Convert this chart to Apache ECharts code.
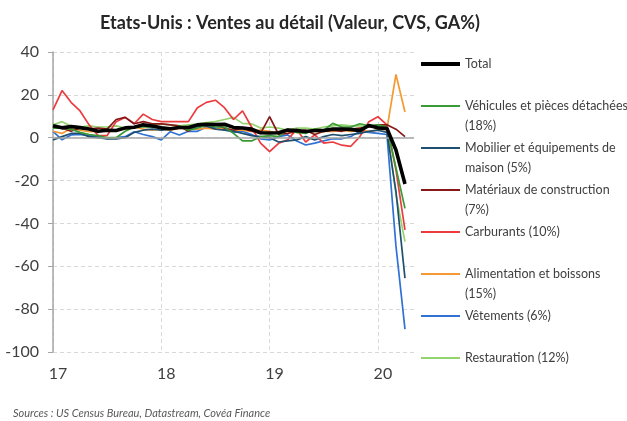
<!DOCTYPE html>
<html>
<head>
<meta charset="utf-8">
<script src="https://cdn.jsdelivr.net/npm/echarts@6/dist/echarts.min.js"></script>
<style>
  html, body { margin: 0; padding: 0; background: #fff; }
  #chart { width: 627px; height: 421px; }
</style>
</head>
<body>
<div id="chart"></div>
<script>
// months jan-2017 .. may-2020 (last one empty, the axis runs a bit past the data)
var months = []
for (var y = 2017; y <= 2020; y++) {
  for (var m = 1; m <= 12; m++) {
    if (y === 2020 && m > 5) break
    months.push(y + '-' + (m < 10 ? '0' + m : m))
  }
}

var seriesNames = [
  'Total',
  'Véhicules et pièces détachées (18%)',
  'Mobilier et équipements de maison (5%)',
  'Matériaux de construction (7%)',
  'Carburants (10%)',
  'Alimentation et boissons (15%)',
  'Vêtements (6%)',
  'Restauration (12%)'
]
// legend text as wrapped in the picture (blank first line keeps the sample on the first text line)
var legendLabels = [
  ' \nTotal\n ',
  ' \nVéhicules et pièces détachées\n(18%)',
  ' \nMobilier et équipements de\nmaison (5%)',
  ' \nMatériaux de construction\n(7%)',
  ' \nCarburants (10%)\n ',
  ' \nAlimentation et boissons\n(15%)',
  ' \nVêtements (6%)\n ',
  ' \nRestauration (12%)\n '
]
var colors = ['#000000', '#3a9a35', '#1f4f6e', '#861818', '#ec3b3f', '#f59a32', '#2f72d4', '#94d46e']

// GA% values, jan-2017 .. apr-2020
var total = [5.6, 4.6, 5.2, 4.7, 4.1, 3.0, 3.5, 3.4, 4.6, 4.9, 6.0, 5.5,
  4.6, 4.2, 4.8, 4.8, 6.0, 6.3, 6.2, 6.3, 4.8, 4.5, 4.0, 2.3,
  2.2, 2.3, 3.6, 3.3, 2.9, 3.4, 3.4, 4.1, 4.1, 3.9, 3.3, 5.7,
  4.6, 4.3, -5.7, -21.6]
var vehicules = [4.5, 4.5, 4.0, 2.5, 1.5, 1.0, 0.0, 0.0, 3.0, 5.0, 5.0, 5.0,
  5.0, 4.0, 5.5, 3.5, 4.5, 6.0, 5.0, 5.0, 2.0, -1.5, -1.5, 0.5,
  1.0, 0.5, 4.0, 2.5, 2.0, 4.0, 3.5, 6.7, 5.0, 5.0, 6.5, 5.5,
  6.0, 5.0, -14.0, -33.0]
var mobilier = [-1.0, 0.5, 2.0, 2.0, 0.5, 0.0, -0.5, -0.5, 0.0, 2.5, 3.5, 4.0,
  3.5, 4.0, 5.0, 4.5, 5.0, 5.5, 4.0, 3.5, 3.0, 2.0, 1.0, 0.5,
  0.0, -2.0, -1.5, -1.0, 0.5, -1.0, 0.5, 1.5, 1.0, 1.5, 2.0, 3.0,
  3.5, 2.5, -25.0, -65.5]
var materiaux = [5.0, 4.5, 3.0, 4.5, 4.0, 4.5, 4.0, 8.5, 9.5, 6.5, 7.5, 6.5,
  6.5, 6.0, 5.5, 3.0, 6.0, 5.5, 6.0, 4.5, 3.5, 4.5, 3.0, 2.0,
  9.8, 1.5, 2.0, 3.0, 3.5, 1.5, 3.0, 3.5, 3.0, 4.0, 4.5, 5.0,
  6.0, 6.0, 4.0, 0.5]
var carburants = [13.0, 22.0, 16.5, 12.5, 6.0, 1.0, 1.0, 7.5, 9.5, 6.5, 11.0, 8.5,
  7.5, 7.5, 7.5, 7.5, 14.0, 16.5, 17.5, 14.0, 8.5, 12.5, 5.0, -2.5,
  -6.5, -2.6, -1.0, 4.0, -2.0, 1.3, -2.5, -2.0, -3.5, -4.0, 0.5, 7.5,
  9.8, 6.0, -15.0, -43.0]
var alimentation = [3.0, 2.0, 4.4, 3.5, 2.8, 3.0, 3.5, 3.5, 4.0, 5.0, 4.0, 3.5,
  4.0, 3.5, 4.5, 4.0, 4.0, 4.5, 4.0, 4.5, 3.5, 3.5, 3.0, 3.5,
  3.0, 2.0, 3.0, 2.5, 2.5, 3.0, 3.0, 3.0, 3.5, 3.0, 3.5, 3.0,
  3.5, 4.0, 29.5, 12.0]
var vetements = [3.0, -1.0, 1.3, 1.5, 1.0, 0.5, -0.3, 0.0, 0.5, 2.8, 1.5, 0.5,
  -1.0, 2.8, 1.3, 3.0, 3.0, 5.0, 4.5, 4.0, 2.5, 3.0, 1.5, -0.5,
  -1.0, 0.5, 1.3, -1.5, -3.4, -2.5, -1.5, -0.5, -0.5, 0.5, 3.0, 2.5,
  2.0, 1.5, -50.5, -89.3]
var restauration = [6.0, 7.5, 5.5, 5.0, 5.5, 5.0, 5.0, 5.5, 4.5, 5.0, 5.5, 6.0,
  6.5, 6.0, 5.5, 6.0, 6.5, 7.0, 7.5, 8.5, 9.5, 6.7, 6.5, 4.5,
  5.0, 4.5, 3.5, 4.5, 4.5, 4.0, 5.0, 5.5, 6.0, 5.5, 5.5, 5.0,
  5.5, 5.5, -26.5, -48.5]

var seriesData = [total, vehicules, mobilier, materiaux, carburants, alimentation, vetements, restauration]

var yearTick = function (idx) { return idx % 12 === 0 }

var series = []
for (var i = seriesData.length - 1; i >= 0; i--) {
  var s = {
    name: seriesNames[i],
    type: 'line',
    data: seriesData[i],
    showSymbol: false,
    symbol: 'circle',
    z: i === 0 ? 10 : 3,
    lineStyle: { color: colors[i], width: i === 0 ? 3.6 : 1.7 },
    itemStyle: { color: colors[i] }
  }
  if (i === 0) {
    // solid zero line
    s.markLine = {
      silent: true,
      symbol: ['none', 'none'],
      label: { show: false },
      lineStyle: { color: '#a6a6a6', type: 'solid', width: 1.5 },
      data: [{ yAxis: 0 }]
    }
  }
  series.push(s)
}

var legendData = seriesNames.map(function (n, i) {
  return { name: n, lineStyle: { width: i === 0 ? 4 : 1.8 } }
})

var option = {
  animation: false,
  backgroundColor: '#ffffff',
  title: [
    {
      text: 'Etats-Unis : Ventes au détail (Valeur, CVS, GA%)',
      left: 95,
      top: 9,
      textStyle: { fontFamily: 'Lato', fontWeight: 'bold', fontSize: 18, color: '#262626' }
    },
    {
      text: 'Sources : US Census Bureau, Datastream, Covéa Finance',
      left: 8,
      top: 403,
      textStyle: { fontFamily: 'Lato', fontStyle: 'italic', fontWeight: 'normal', fontSize: 11, color: '#595959' }
    }
  ],
  legend: {
    orient: 'vertical',
    left: 419,
    top: 34,
    padding: 0,
    itemGap: -18,
    itemWidth: 39,
    itemHeight: 14,
    itemStyle: { opacity: 0 },
    selectedMode: false,
    data: legendData,
    formatter: function (name) {
      return legendLabels[seriesNames.indexOf(name)]
    },
    textStyle: {
      fontFamily: 'Lato',
      fontSize: 12.5,
      color: '#404040',
      lineHeight: 20
    }
  },
  grid: {
    left: 53,
    right: 213,
    top: 52,
    bottom: 69,
    outerBoundsMode: 'none'
  },
  xAxis: {
    type: 'category',
    data: months,
    boundaryGap: false,
    axisLine: { show: false },
    axisTick: { show: false },
    axisLabel: {
      interval: yearTick,
      formatter: function (v) { return v.slice(2, 4) },
      fontFamily: 'Lato',
      fontSize: 16,
      color: '#404040',
      margin: 14,
      padding: [0, 0, 0, 10]
    },
    splitLine: {
      show: true,
      interval: yearTick,
      lineStyle: { color: '#d9d9d9', type: [4, 3], width: 1 }
    }
  },
  yAxis: {
    type: 'value',
    min: -100,
    max: 40,
    interval: 20,
    axisLine: { show: true, lineStyle: { color: '#a6a6a6', width: 1.5 } },
    axisTick: { show: true, length: 5, lineStyle: { color: '#a6a6a6' } },
    axisLabel: {
      fontFamily: 'Lato',
      fontSize: 16,
      color: '#404040',
      margin: 14
    },
    splitLine: {
      show: true,
      lineStyle: { color: '#d9d9d9', type: [4, 3], width: 1 }
    }
  },
  series: series
}

var myChart = echarts.init(document.getElementById('chart'), null, { renderer: 'canvas' })
myChart.setOption(option)
</script>
</body>
</html>
